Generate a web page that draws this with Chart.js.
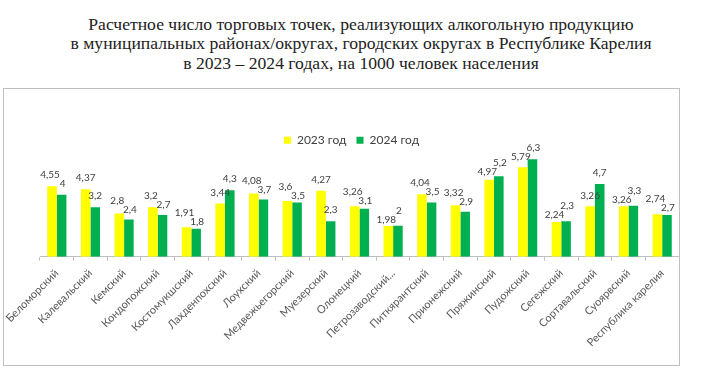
<!DOCTYPE html>
<html><head><meta charset="utf-8">
<script src="https://cdn.jsdelivr.net/npm/chart.js@4.4.1/dist/chart.umd.min.js"></script>
<style>
html,body{margin:0;padding:0;background:#fff;width:720px;height:375px;overflow:hidden}
#title{position:absolute;left:0;top:15px;width:722px;text-align:center;font-family:"Liberation Serif","Times New Roman",serif;font-size:17.6px;line-height:19.3px;color:#222}
#box{position:absolute;left:3px;top:88px;width:675px;height:276px;border:1px solid #bfbfbf}
#c{position:absolute;left:0;top:0}
</style></head><body>
<div id="title">Расчетное число торговых точек, реализующих алкогольную продукцию<br>в муниципальных районах/округах, городских округах в Республике Карелия<br>в 2023 – 2024 годах, на 1000 человек населения</div>
<div id="box"><canvas id="c" width="675" height="276"></canvas></div>
<script>
const categories = ['Беломорский','Калевальский','Кемский','Кондопожский','Костомукшский','Лахденпохский','Лоухский','Медвежьегорский','Муезерский','Олонецкий','Петрозаводский...','Питкярантский','Прионежский','Пряжинский','Пудожский','Сегежский','Сортавальский','Суоярвский','Республика карелия'];
const values2023 = [4.55,4.37,2.8,3.2,1.91,3.44,4.08,3.6,4.27,3.26,1.98,4.04,3.32,4.97,5.79,2.24,3.26,3.26,2.74];
const values2024 = [4,3.2,2.4,2.7,1.8,4.3,3.7,3.5,2.3,3.1,2,3.5,2.9,5.2,6.3,2.3,4.7,3.3,2.7];
const seriesNames = ['2023 год','2024 год'];

const dataLabels = {
  id:'dataLabels',
  afterDatasetsDraw(chart){
    const ctx = chart.ctx;
    ctx.save();
    ctx.font = '10px Lato';
    ctx.fillStyle = '#404040';
    ctx.textAlign = 'center';
    ctx.textBaseline = 'middle';
    const m0 = chart.getDatasetMeta(0), m1 = chart.getDatasetMeta(1);
    const d0 = chart.data.datasets[0].data, d1 = chart.data.datasets[1].data;
    const off = 11, sep = 9;
    m0.data.forEach((e0,j)=>{
      const e1 = m1.data[j];
      let c0 = e0.y - off, c1 = e1.y - off;
      let x0 = e0.x, x1 = e1.x;
      if (Math.abs(c0 - c1) < sep) {
        const mid = (c0 + c1) / 2;
        if (d0[j] >= d1[j]) { c0 = mid - sep/2; c1 = mid + sep/2; }
        else { c1 = mid - sep/2; c0 = mid + sep/2; }
        x0 -= 2; x1 += 1;
      }
      ctx.fillText(String(d0[j]).replace('.',','), x0, c0);
      ctx.fillText(String(d1[j]).replace('.',','), x1, c1);
    });
    ctx.restore();
  }
};

new Chart(document.getElementById('c'), {
  type:'bar',
  data:{labels:categories, datasets:[
    {label:seriesNames[0], data:values2023, backgroundColor:'#ffff00', categoryPercentage:0.57, barPercentage:1},
    {label:seriesNames[1], data:values2024, backgroundColor:'#00b050', categoryPercentage:0.57, barPercentage:1}
  ]},
  options:{
    responsive:false, animation:false,
    layout:{padding:{left:20,right:0,top:35.2,bottom:0}},
    plugins:{
      legend:{position:'top', labels:{boxWidth:7,boxHeight:7,padding:10,font:{family:'Lato',size:12},color:'#404040'}},
      tooltip:{enabled:false}
    },
    scales:{
      x:{
        grid:{offset:true, drawOnChartArea:false, drawTicks:true, tickLength:4, color:'#bfbfbf'},
        border:{display:true,color:'#bfbfbf'},
        ticks:{autoSkip:false, maxRotation:45, minRotation:45, padding:6, font:{family:'Lato',size:11}, color:'#595959'},
        afterFit(s){ s.paddingLeft=36; s.paddingRight=0; s.height=108.3; }
      },
      y:{display:false, min:0, max:6.5}
    }
  },
  plugins:[dataLabels]
});
</script>
</body></html>
